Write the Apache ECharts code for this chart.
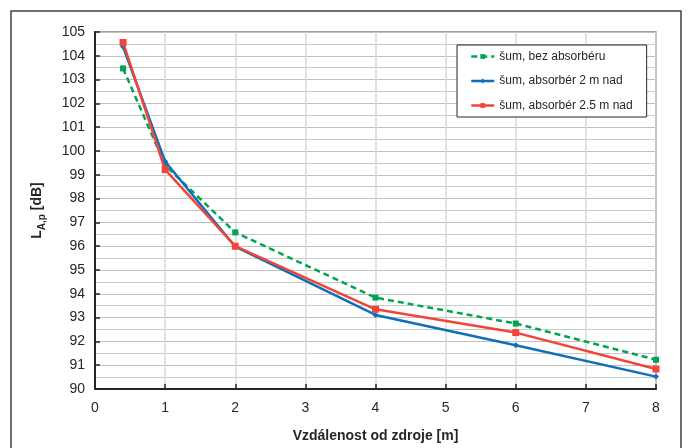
<!DOCTYPE html>
<html><head><meta charset="utf-8">
<script src="https://cdn.jsdelivr.net/npm/echarts@6/dist/echarts.min.js"></script>
<style>html,body{margin:0;padding:0;background:#fff}#c{width:689px;height:448px}</style>
</head><body><div id="c"></div>
<script>
const xValues = [0.4, 1, 2, 4, 6, 8];
const seriesNames = ['šum, bez absorbéru', 'šum, absorbér 2 m nad', 'šum, absorbér 2.5 m nad'];
const bezAbsorberu = [103.47, 99.4, 96.58, 93.84, 92.75, 91.23];
const absorber2m = [104.38, 99.56, 95.98, 93.11, 91.84, 90.52];
const absorber25m = [104.56, 99.22, 96.0, 93.35, 92.37, 90.84];
const xTitle = 'Vzdálenost od zdroje [m]';

const font = 'Liberation Sans, Arial, sans-serif';
const toPairs = arr => xValues.map((x, i) => [x, arr[i]]);
const chart = echarts.init(document.getElementById('c'));
chart.setOption({
  animation: false,
  textStyle: { fontFamily: font },
  graphic: [{ type: 'rect', shape: { x: 11, y: 11, width: 670, height: 440 },
    style: { fill: 'none', stroke: '#404040', lineWidth: 1.5 }, silent: true }],
  grid: { left: 95, right: 33, top: 32, bottom: 58, show: true, borderColor: '#404040', borderWidth: 1.2 },
  legend: {
    orient: 'vertical', left: 457, top: 45, padding: [4.5, 14, 4.5, 13], itemGap: 10.5,
    itemWidth: 23, itemHeight: 6, backgroundColor: '#fff',
    borderColor: '#262626', borderWidth: 1,
    lineStyle: { width: 2.5 },
    textStyle: { fontFamily: font, fontSize: 12, color: '#262626', lineHeight: 14 },
    data: seriesNames
  },
  xAxis: {
    type: 'value', min: 0, max: 8, interval: 1,
    name: xTitle, nameLocation: 'middle', nameGap: 40,
    nameTextStyle: { fontFamily: font, fontSize: 14, fontWeight: 'bold', color: '#262626' },
    axisLine: { lineStyle: { color: '#262626', width: 2 } },
    axisTick: { inside: true, length: 5, lineStyle: { color: '#262626', width: 1.5 } },
    axisLabel: { fontSize: 14, color: '#262626', margin: 12 },
    splitLine: { show: true, lineStyle: { color: '#d9d9d9', width: 1.5 } }
  },
  yAxis: {
    type: 'value', min: 90, max: 105, interval: 1,
    name: '{b|L}{s|A,p}{b| [dB]}', nameLocation: 'middle', nameGap: 48, nameRotate: 90,
    nameTextStyle: { rich: {
      b: { fontFamily: font, fontSize: 14, fontWeight: 'bold', color: '#262626' },
      s: { fontFamily: font, fontSize: 10, fontWeight: 'bold', color: '#262626', padding: [10, 0, 0, 0] }
    } },
    axisLine: { show: true, lineStyle: { color: '#262626', width: 2 } },
    axisTick: { show: true, inside: true, length: 5, lineStyle: { color: '#262626', width: 1.5 } },
    axisLabel: { fontSize: 14, color: '#262626', margin: 10 },
    splitLine: { show: true, lineStyle: { color: '#c0c0c0', width: 1.2 } },
    minorTick: { show: false, splitNumber: 2 },
    minorSplitLine: { show: true, lineStyle: { color: '#c8c8c8', width: 1.2 } }
  },
  series: [
    { name: seriesNames[0], type: 'line', data: toPairs(bezAbsorberu), symbol: 'rect', symbolSize: 6,
      color: '#00a551', lineStyle: { width: 2.5, type: [6, 4] }, z: 2 },
    { name: seriesNames[1], type: 'line', data: toPairs(absorber2m), symbol: 'diamond', symbolSize: 6,
      color: '#0f6fba', lineStyle: { width: 2.5 }, z: 3 },
    { name: seriesNames[2], type: 'line', data: toPairs(absorber25m), symbol: 'rect', symbolSize: 7,
      color: '#f0463a', lineStyle: { width: 2.5 }, z: 4 }
  ]
});
</script></body></html>
